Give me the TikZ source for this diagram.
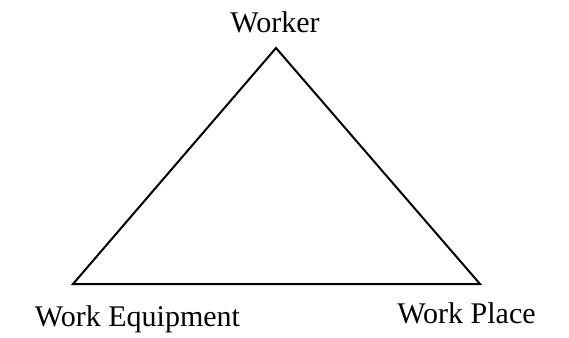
\documentclass[tikz,border=0pt]{standalone}
\usepackage{fontspec}
\setmainfont{Liberation Serif}
\begin{document}
\begin{tikzpicture}[x=1pt,y=1pt,
  lbl/.style={anchor=base,inner sep=0pt,font=\fontsize{30}{36}\selectfont},
  edge/.style={line width=2pt,line join=miter}]
\useasboundingbox (0,0) rectangle (569,337);
\coordinate (top) at (276,289);
\coordinate (bl) at (73,53);
\coordinate (br) at (480,53);
\draw[edge] (top) -- (br) -- (bl) -- cycle;
\node[lbl] (worker) at (275,304) {Worker};
\node[lbl] (equip) at (137.5,11) {Work Equipment};
\node[lbl] (place) at (466.5,14) {Work Place};
\end{tikzpicture}
\end{document}
